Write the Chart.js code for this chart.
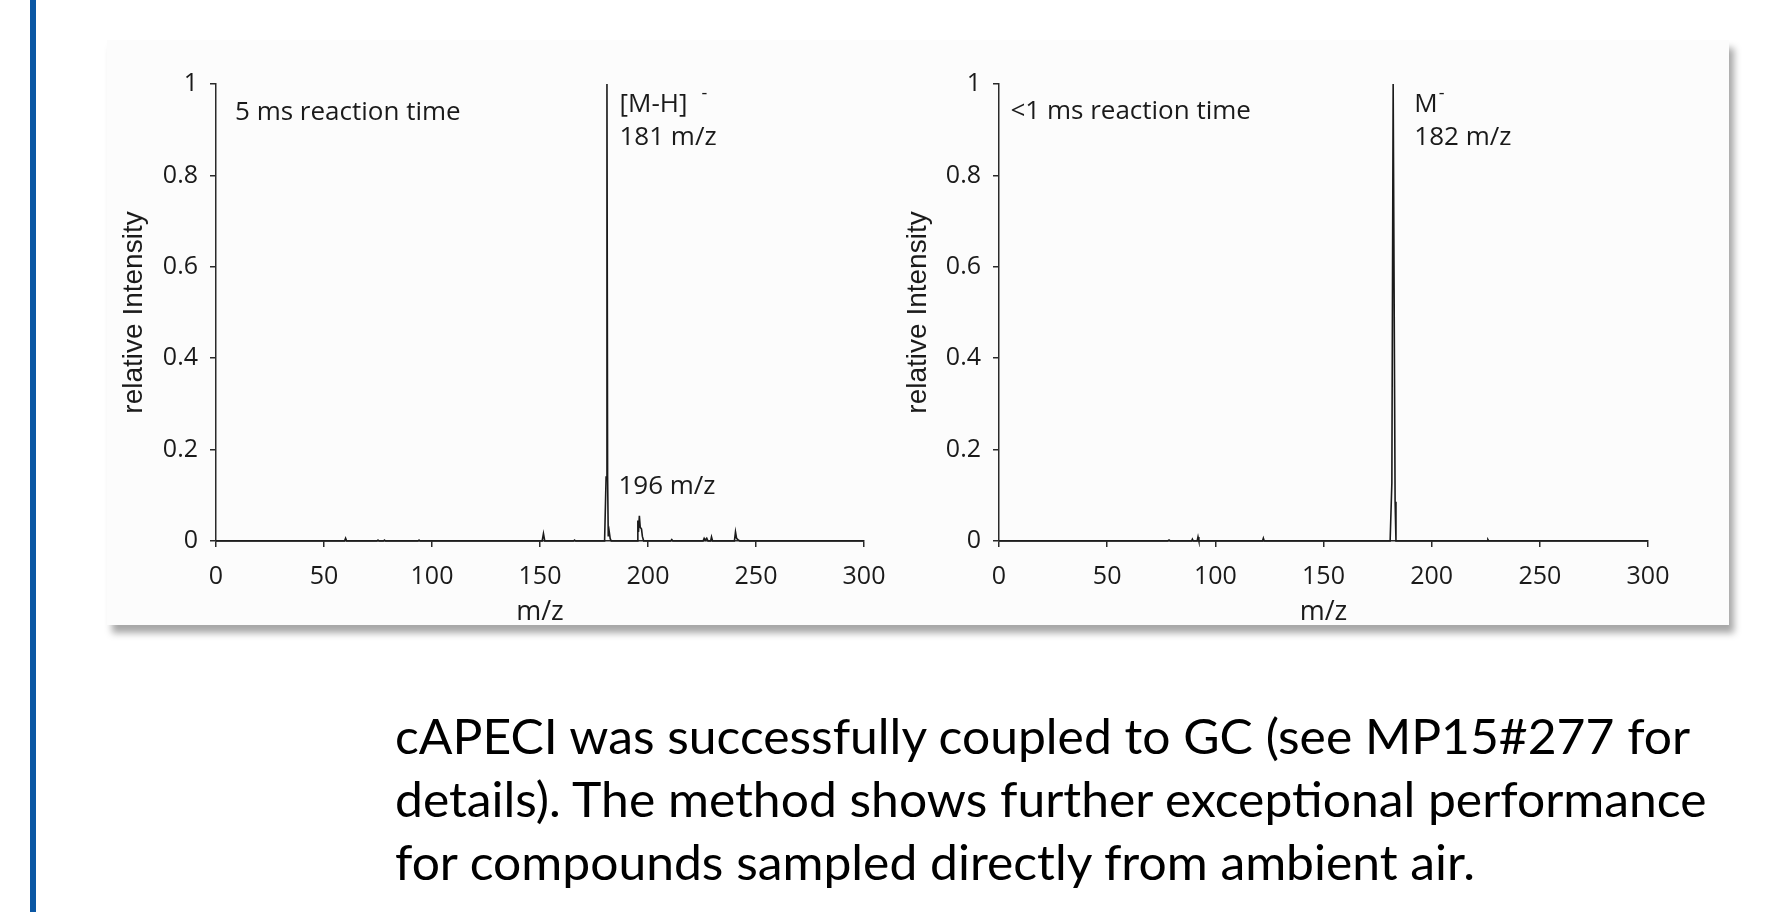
<!DOCTYPE html>
<html>
<head>
<meta charset="utf-8">
<script src="https://cdn.jsdelivr.net/npm/chart.js@4.4.1/dist/chart.umd.min.js"></script>
<style>
  html, body { margin: 0; padding: 0; background: #fff; }
  body { width: 1772px; height: 912px; position: relative; overflow: hidden; }
  .side-bar { position: absolute; left: 30px; top: 0; width: 6px; height: 912px; background: #0b57a4; }
  .panel { position: absolute; left: 107px; top: 40px; width: 1622px; height: 585px; background: #fcfcfc;
           box-shadow: 5px 8px 7px rgba(0, 0, 0, 0.35); }
  canvas { position: absolute; }
  #leftChart  { left: 107px; top: 40px; }
  #rightChart { left: 880px; top: 40px; }
  .caption { position: absolute; left: 395px; top: 704px; font-family: Lato, sans-serif; font-size: 49px;
             line-height: 63px; color: #000; white-space: nowrap; transform-origin: 0 0; }
</style>
</head>
<body>
<div class="side-bar"></div>
<div class="panel"></div>
<canvas id="leftChart" width="800" height="585"></canvas>
<canvas id="rightChart" width="847" height="585"></canvas>
<div class="caption" id="caption">cAPECI was successfully coupled to GC (see MP15#277 for<br>details). The method shows further exceptional performance<br>for compounds sampled directly from ambient air.</div>

<script>
// 5 ms reaction time spectrum (m/z, relative intensity)
const leftMz  = [0, 59.5, 60, 60.5, 74.5, 75, 75.5, 77.5, 78, 78.5, 93.5, 94, 94.5,
                 151, 151.6, 152.2, 165.5, 166, 166.5,
                 179.9, 180.6, 181.0, 181.3, 181.6, 182.0, 182.5, 183,
                 195, 195.3, 195.6, 196.0, 196.4, 197.0, 197.4, 198,
                 210.5, 211, 211.5, 225.5, 226, 226.5, 227.2, 227.8, 229, 229.4, 229.9,
                 240, 240.5, 241, 241.6, 242.5, 300];
const leftInt = [0, 0, 0.006, 0, 0, 0.002, 0, 0, 0.002, 0, 0, 0.002, 0,
                 0, 0.016, 0, 0, 0.002, 0,
                 0, 0.14, 1.0, 0.14, 0.01, 0.022, 0.005, 0,
                 0, 0.045, 0.02, 0.055, 0.03, 0.026, 0.01, 0,
                 0, 0.003, 0, 0, 0.006, 0.002, 0.006, 0, 0, 0.009, 0,
                 0, 0.02, 0.006, 0.003, 0, 0];

// <1 ms reaction time spectrum
const rightMz  = [0, 78, 78.6, 79.2, 89, 89.4, 89.8, 91.6, 92, 92.4, 121.8, 122.2, 122.6,
                  180.8, 181.6, 182.2, 183.1, 183.5, 225.6, 226, 226.4, 300];
const rightInt = [0, 0, 0.002, 0, 0, 0.004, 0, 0, 0.009, 0, 0, 0.006, 0,
                  0, 0.127, 1.0, 0.086, 0, 0, 0.003, 0, 0];

const xTicks      = [0, 50, 100, 150, 200, 250, 300];
const xTickLabels = ['0', '50', '100', '150', '200', '250', '300'];
const yTicks      = [0, 0.2, 0.4, 0.6, 0.8, 1];
const yTickLabels = ['0', '0.2', '0.4', '0.6', '0.8', '1'];

// peak labels, anchored in data units (m/z, relative intensity)
const leftNotes = [
    { text: '5 ms reaction time', mz: 8.8, rel: 0.921 },
    { text: '[M-H]', mz: 186.8, rel: 0.939, sup: '-', supGap: 14 },
    { text: '181 m/z', mz: 186.8, rel: 0.867 },
    { text: '196 m/z', mz: 186.3, rel: 0.103 }
];
const rightNotes = [
    { text: '<1 ms reaction time', mz: 5.3, rel: 0.923 },
    { text: 'M', mz: 192, rel: 0.939, sup: '-', supGap: 1 },
    { text: '182 m/z', mz: 192, rel: 0.867 }
];

const INK = '#1a1a1a';

// draws the text labels next to the peaks
const notesPlugin = {
    id: 'notes',
    afterDatasetsDraw(chart, args, opts) {
        const { ctx, scales: { x, y } } = chart;
        ctx.save();
        ctx.fillStyle = INK;
        ctx.textBaseline = 'alphabetic';
        ctx.textAlign = 'left';
        (opts.items || []).forEach(n => {
            const px = x.getPixelForValue(n.mz);
            const py = y.getPixelForValue(n.rel);
            ctx.font = '26px "Open Sans"';
            ctx.fillText(n.text, px, py);
            if (n.sup) {
                const w = ctx.measureText(n.text).width;
                ctx.font = '18px "Open Sans"';
                ctx.fillText(n.sup, px + w + n.supGap, py - 13);
            }
        });
        ctx.restore();
    }
};

function labelFor(values, labels, v) {
    const i = values.findIndex(t => Math.abs(t - v) < 1e-9);
    return i >= 0 ? labels[i] : '';
}

function makeSpectrum(id, mz, rel, notes, yWidth, padRight, yTitlePad) {
    const points = mz.map((m, i) => ({ x: m, y: rel[i] }));
    return new Chart(document.getElementById(id), {
        type: 'line',
        data: {
            datasets: [{
                data: points,
                borderColor: INK,
                borderWidth: 1.6,
                pointRadius: 0,
                tension: 0,
                fill: false,
                clip: 6
            }]
        },
        options: {
            responsive: false,
            animation: false,
            devicePixelRatio: 1,
            layout: { padding: { top: 44, right: padRight, bottom: 0, left: 0 } },
            plugins: {
                legend: { display: false },
                tooltip: { enabled: false },
                notes: { items: notes }
            },
            scales: {
                x: {
                    type: 'linear',
                    min: 0,
                    max: 300,
                    afterBuildTicks: s => { s.ticks = xTicks.map(v => ({ value: v })); },
                    afterFit: s => { s.height = 84; },
                    border: { display: true, color: '#2a2a2a', width: 1.5 },
                    grid: { drawOnChartArea: false, drawTicks: true, tickLength: 6, color: '#2a2a2a', lineWidth: 1.5 },
                    ticks: {
                        color: INK,
                        font: { family: 'Open Sans', size: 25 },
                        padding: 15,
                        maxRotation: 0,
                        autoSkip: false,
                        callback: v => labelFor(xTicks, xTickLabels, v)
                    },
                    title: {
                        display: true,
                        text: 'm/z',
                        color: INK,
                        font: { family: 'Open Sans', size: 27, lineHeight: 0.95 },
                        padding: { top: 0, bottom: 0 }
                    }
                },
                y: {
                    min: 0,
                    max: 1,
                    afterBuildTicks: s => { s.ticks = yTicks.map(v => ({ value: v })); },
                    afterFit: s => { s.width = yWidth; },
                    border: { display: true, color: '#2a2a2a', width: 1.5 },
                    grid: { drawOnChartArea: false, drawTicks: true, tickLength: 6, color: '#2a2a2a', lineWidth: 1.5 },
                    ticks: {
                        color: INK,
                        font: { family: 'Open Sans', size: 25 },
                        padding: 12,
                        autoSkip: false,
                        callback: v => labelFor(yTicks, yTickLabels, v)
                    },
                    title: {
                        display: true,
                        text: 'relative Intensity',
                        color: INK,
                        font: { family: 'Liberation Sans', size: 28 },
                        padding: { top: yTitlePad, bottom: 0 }
                    }
                }
            }
        },
        plugins: [notesPlugin]
    });
}

makeSpectrum('leftChart', leftMz, leftInt, leftNotes, 109, 43, 10);
makeSpectrum('rightChart', rightMz, rightInt, rightNotes, 119, 79, 21);

// squeeze the caption to the width of the original (narrow) typeface
const cap = document.getElementById('caption');
const mctx = document.createElement('canvas').getContext('2d');
mctx.font = '49px Lato';
const widest = mctx.measureText('details). The method shows further exceptional performance').width;
cap.style.transform = 'scaleX(' + (1314 / widest).toFixed(4) + ')';
</script>
</body>
</html>
